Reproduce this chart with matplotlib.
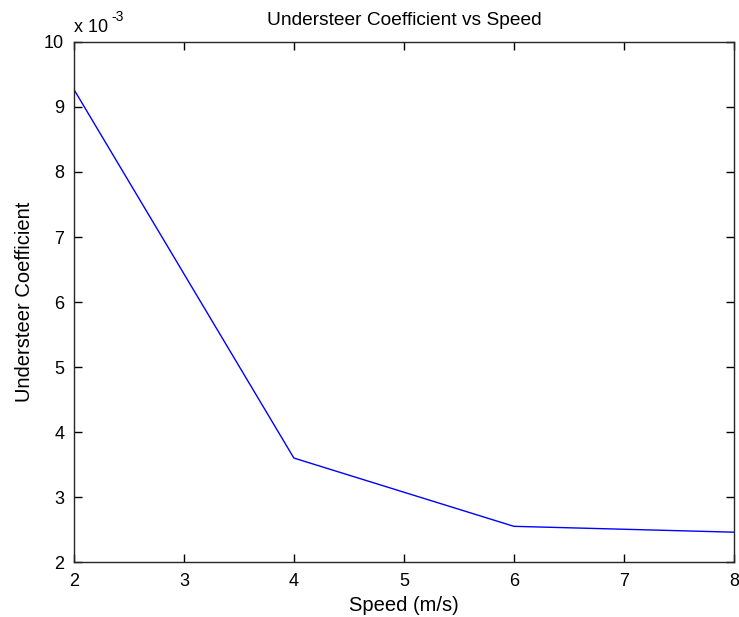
import numpy as np
import matplotlib.pyplot as plt
from matplotlib.ticker import FuncFormatter

plt.rcParams['font.family'] = ['Liberation Sans', 'DejaVu Sans']

# speed sweep and resulting understeer coefficient
speed = [2, 4, 6, 8]
k_us = [9.27e-3, 3.60e-3, 2.55e-3, 2.46e-3]
scale = 1e-3

fig = plt.figure(figsize=(7.39, 6.17), dpi=100)
ax = fig.add_axes([0.100, 0.089, 0.893, 0.843])

ax.plot(speed, k_us, color=(0, 0, 1), lw=1.0)

ax.set_xlim(2, 8)
ax.set_ylim(2e-3, 10e-3)
ax.set_xticks(np.arange(2, 9, 1))
ax.set_yticks(np.arange(2, 11, 1) * scale)
ax.yaxis.set_major_formatter(FuncFormatter(lambda v, p: f"{v / scale:.0f}"))
ax.tick_params(direction='in', top=True, right=True, length=6, width=1,
               labelsize=13)
ax.tick_params(axis='x', pad=8)
ax.tick_params(axis='y', pad=7)
for s in ax.spines.values():
    s.set_linewidth(1.0)
    s.set_color('#262626')

# exponent label above the y axis
ax.text(0.0, 1.012, "x 10", transform=ax.transAxes, fontsize=13,
        ha='left', va='bottom')
ax.text(0.057, 1.035, "-3", transform=ax.transAxes, fontsize=10,
        ha='left', va='bottom')

ax.set_title("Understeer Coefficient vs Speed", fontsize=13.8, pad=12)
ax.set_xlabel("Speed (m/s)", fontsize=14.5, labelpad=4.5)
ax.set_ylabel("Understeer Coefficient", fontsize=14.5, labelpad=7.5)

fig.savefig("out.png", dpi=100)
